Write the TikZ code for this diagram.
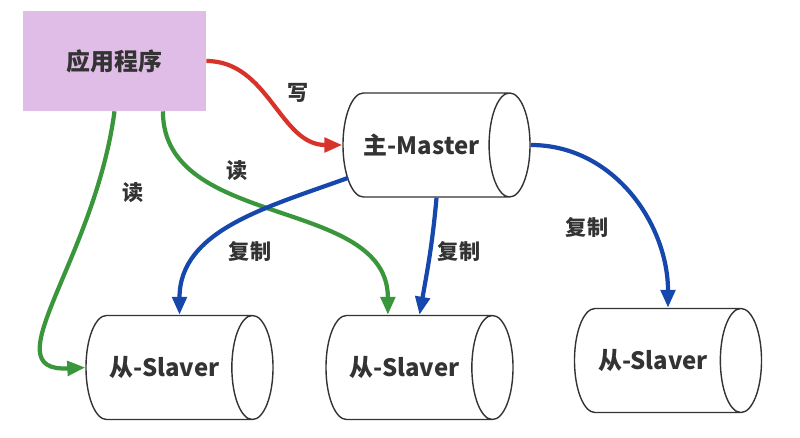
\documentclass[tikz,border=0pt]{standalone}
\usepackage{fontspec}
\setmainfont{Noto Sans CJK SC}
\usetikzlibrary{shapes.geometric,arrows.meta}
\definecolor{lila}{HTML}{DFBDE6}
\definecolor{testo}{HTML}{333333}
\definecolor{rosso}{HTML}{D8332B}
\definecolor{verde}{HTML}{3A963A}
\definecolor{blu}{HTML}{1547AC}
\tikzset{
  db/.style={cylinder, draw=testo, line width=1pt, aspect=1.3, anchor=shape center,
    minimum width=2.6cm, minimum height=4.675cm,
    font=\fontsize{17}{20}\selectfont\bfseries, text=testo},
  freccia/.style={line width=3pt, -{Triangle[length=0.45cm,width=0.36cm]}},
  etich/.style={font=\fontsize{15}{18}\selectfont\bfseries, text=testo}
}
\begin{document}
\begin{tikzpicture}[x=0.025cm,y=0.025cm]
    \useasboundingbox (0,0) rectangle (800,438);

    % applicazione
    \node[fill=lila, minimum width=4.575cm, minimum height=2.5cm,
      font=\fontsize{17}{20}\selectfont\bfseries, text=testo] (app) at (114.5,377) {应用程序};

    % master e slave
    \node[db] (master) at (436.5,293) {主-Master};
    \node[db] (s1) at (179.5,70.5) {从-Slaver};
    \node[db] (s2) at (419.5,70.5) {从-Slaver};
    \node[db] (s3) at (668,77.5) {从-Slaver};

    % scrittura e lettura
    \draw[freccia, rosso] (app.east) to[out=0,in=180] (master.west);
    \draw[freccia, verde] (app.south) .. controls +(-20,-150) and +(-95,-5) .. (s1.west);
    \draw[freccia, verde] ([xshift=1.21cm]app.south) to[out=-90,in=90] ([xshift=-0.79cm]s2.shape center |- s2.north);

    % replica
    \draw[freccia, blu] ([xshift=0.15cm,yshift=-0.82cm]master.west) to[out=200,in=90] (s1.shape center |- s1.north);
    \draw[freccia, blu] (master.shape center |- master.south) to[out=-95,in=80] (s2.shape center |- s2.north);
    \draw[freccia, blu] (master.east) to[out=0,in=90] (s3.shape center |- s3.north);

    \node[etich] (l1) at (298,345) {写};
    \node[etich] (l2) at (133,245) {读};
    \node[etich] (l3) at (237,267) {读};
    \node[etich] (l4) at (250,187) {复制};
    \node[etich] (l5) at (459,187) {复制};
    \node[etich] (l6) at (587,211) {复制};
\end{tikzpicture}
\end{document}
